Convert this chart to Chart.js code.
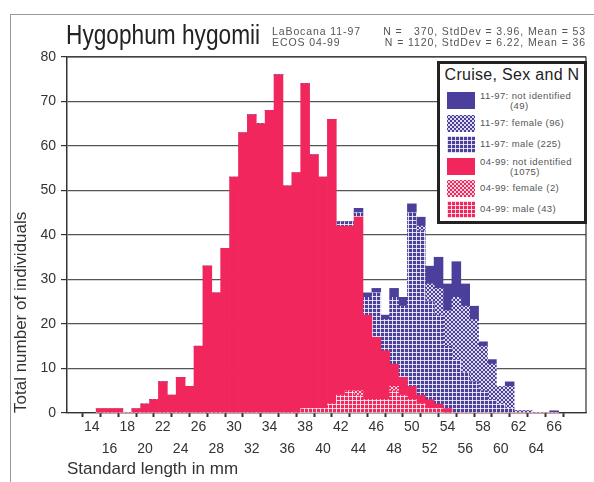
<!DOCTYPE html>
<html><head><meta charset="utf-8">
<script src="https://cdn.jsdelivr.net/npm/chart.js@4"></script>
<style>
html,body{margin:0;padding:0;background:#fff;}
#wrap{position:relative;width:594px;height:482px;overflow:hidden;font-family:Arial,"Liberation Sans",sans-serif;}
#frame{position:absolute;left:10px;top:14px;width:600px;height:500px;border-left:1px solid #999;border-top:1px solid #999;}
#c{position:absolute;left:0;top:0;}
#title{position:absolute;left:66px;top:20px;font-size:27px;line-height:30px;color:#222;white-space:nowrap;transform:scaleX(0.84);transform-origin:left top;}
.stat{position:absolute;font-size:10.5px;line-height:11px;color:#555;white-space:nowrap;letter-spacing:0.9px;}
#legend{position:absolute;left:437px;top:61px;width:144px;height:157px;border:3px solid #222;background:#fff;}
#legend .lt{position:absolute;left:0;top:2px;width:144px;text-align:center;font-size:16px;color:#222;white-space:nowrap;letter-spacing:0.3px;}
.sw{position:absolute;left:7px;width:28px;height:17px;}
.tx{position:absolute;left:40px;font-size:9.5px;line-height:10px;color:#555;white-space:nowrap;letter-spacing:0.4px;}
</style></head>
<body><div id="wrap">
<div id="frame"></div>
<canvas id="c" width="594" height="482"></canvas>
<div id="title">Hygophum hygomii</div>
<div class="stat" style="left:272px;top:26px;">LaBocana 11-97</div>
<div class="stat" style="right:8px;top:26px;">N =&nbsp;&nbsp;&nbsp;370, StdDev = 3.96, Mean = 53</div>
<div class="stat" style="left:272px;top:37px;">ECOS 04-99</div>
<div class="stat" style="right:8px;top:37px;">N = 1120, StdDev = 6.22, Mean = 36</div>
<div id="legend"><div class="lt">Cruise, Sex and N</div></div>
</div>
<script>
// ---- data ----
const lengths = [15,16,17,18,19,20,21,22,23,24,25,26,27,28,29,30,31,32,33,34,35,36,37,38,39,40,41,42,43,44,45,46,47,48,49,50,51,52,53,54,55,56,57,58,59,60,61,62,63,64,65,66];
const redMale     = [0,0,0,0,0,0,0,0,0,0, 0,0,0,0,0,0,0,0,0,0, 0,0,0,1,1,1,2,4,5,4, 3,3,3,5,4,3,2,1,1,0, 0,0,0,0,0,0,0,0,0,0,0,0];
const redFemale   = [0,0,0,0,0,0,0,0,0,0, 0,0,0,0,0,0,0,0,0,0, 0,0,0,0,0,0,0,0,0,1, 0,0,0,1,0,0,0,0,0,0, 0,0,0,0,0,0,0,0,0,0,0,0];
const redNotId    = [1,1,1,0,1,2,3,7,4,8, 6,15,33,27,37,53,63,67,65,68, 76,51,54,73,57,52,64,38,37,39, 19,14,11,5,4,3,2,2,1,1, 0,0,0,0,0,0,0,0,0,0,0,0];
const blueMale    = [0,0,0,0,0,0,0,0,0,0, 0,0,0,0,0,0,0,0,0,0, 0,0,0,0,0,0,0,1,1,1, 4,10,7,15,16,39,37,22,20,14, 12,9,7,5,3,2,1,0,0,0,0,0];
const blueFemale  = [0,0,0,0,0,0,0,0,0,0, 0,0,0,0,0,0,0,0,0,0, 0,0,0,0,0,0,0,0,0,0, 0,0,0,0,0,0,1,4,6,8, 14,15,14,10,8,4,5,0.5,0.5,0,0,0];
const blueNotId   = [0,0,0,0,0,0,0,0,0,0, 0,0,0,0,0,0,0,0,0,0, 0,0,0,0,0,0,0,0,0,1, 1,1,1,2,2,2,2,4,7,6, 8,5,3,1,1,0,1,0,0,0,0,0.5];
const xTickLabels = [14,16,18,20,22,24,26,28,30,32,34,36,38,40,42,44,46,48,50,52,54,56,58,60,62,64,66];
const yTickLabels = [0,10,20,30,40,50,60,70,80];
const seriesNames = ['04-99: male (43)','04-99: female (2)','04-99: not identified (1075)','11-97: male (225)','11-97: female (96)','11-97: not identified (49)'];

// ---- styles ----
const RED = '#f0265c', BLUE = '#4a409c';
function tile(base, kind){
  const c = document.createElement('canvas'); c.width = 4; c.height = 4;
  const g = c.getContext('2d'); g.fillStyle = base; g.fillRect(0,0,4,4);
  g.fillStyle = 'rgba(255,255,255,0.8)';
  if (kind === 'grid'){ g.fillRect(0,0,4,1); g.fillRect(0,0,1,4); }
  else if (kind === 'cross'){ for(let i=0;i<4;i++){ g.fillRect(i,i,1,1); g.fillRect(3-i,i,1,1);} }
  return c;
}
const ctx = document.getElementById('c').getContext('2d');
const tiles = [tile(RED,'grid'), tile(RED,'cross'), tile(RED,'solid'), tile(BLUE,'grid'), tile(BLUE,'cross'), tile(BLUE,'solid')];
const fills = tiles.map(t => ctx.createPattern(t,'repeat'));
const seriesData = [redMale, redFemale, redNotId, blueMale, blueFemale, blueNotId];

const datasets = seriesData.map((arr, k) => ({
  label: seriesNames[k],
  data: lengths.map((x,i) => ({x: x, y: arr[i]})),
  backgroundColor: fills[k],
  borderWidth: 0,
  stack: 's',
  barPercentage: 1,
  categoryPercentage: 1
}));

const areaFrame = {
  id: 'areaFrame',
  afterDraw(chart){
    const {ctx, chartArea:a} = chart;
    ctx.save(); ctx.strokeStyle = '#333'; ctx.lineWidth = 1.2;
    ctx.beginPath(); ctx.moveTo(a.left, a.top); ctx.lineTo(a.right, a.top); ctx.lineTo(a.right, a.bottom); ctx.stroke();
    ctx.restore();
  }
};

new Chart(ctx, {
  type: 'bar',
  data: { datasets },
  plugins: [areaFrame],
  options: {
    responsive: false, animation: false,
    layout: { padding: { left: 0, right: 8, top: 57, bottom: 0 } },
    plugins: { legend: { display: false }, tooltip: { enabled: false } },
    scales: {
      x: {
        type: 'linear', min: 12.3, max: 68.5, stacked: true,
        afterBuildTicks: s => { s.ticks = xTickLabels.map(v => ({ value: v })); },
        afterFit: s => { s.height = 69; },
        grid: { drawOnChartArea: false, drawTicks: true, tickLength: 4, tickWidth: 2, tickColor: '#333' },
        border: { display: true, color: '#333', width: 1.2 },
        ticks: { autoSkip: false, maxRotation: 0, padding: -1, color: '#333',
          font: { family: 'Arial', size: 14, lineHeight: 1.57 },
          callback: (v, i) => i % 2 === 0 ? [String(v), ''] : ['', String(v)] },
        title: { display: true, text: 'Standard length in mm', align: 'start', color: '#333',
          font: { family: 'Arial', size: 17 }, padding: { top: 0, bottom: 2 } }
      },
      y: {
        stacked: true, min: 0, max: 80,
        afterBuildTicks: s => { s.ticks = yTickLabels.map(v => ({ value: v })); },
        afterFit: s => { s.width = 67; },
        grid: { color: '#555', lineWidth: 1.2, tickLength: 6, tickColor: '#333' },
        border: { color: '#333', width: 1.5 },
        ticks: { padding: 5, color: '#333', font: { family: 'Arial', size: 14 } },
        title: { display: true, text: 'Total number of individuals', align: 'start', color: '#333',
          font: { family: 'Arial', size: 17 }, padding: { top: 11, bottom: 0 } }
      }
    }
  }
});

// ---- legend (HTML overlay, same order as the reference) ----
const legendOrder = [5,4,3,2,1,0];
const legendText = [
  ['11-97: not identified','(49)'], ['11-97: female (96)'], ['11-97: male (225)'],
  ['04-99: not identified','(1075)'], ['04-99: female (2)'], ['04-99: male (43)']
];
const itemTops = [28, 51, 72, 94, 116, 137];
const lg = document.getElementById('legend');
legendOrder.forEach((k, j) => {
  const sw = document.createElement('div'); sw.className = 'sw';
  sw.style.top = itemTops[j] + 'px';
  sw.style.backgroundImage = 'url(' + tiles[k].toDataURL() + ')';
  lg.appendChild(sw);
  const tx = document.createElement('div'); tx.className = 'tx';
  const lines = legendText[j];
  tx.style.top = (itemTops[j] + (lines.length === 1 ? 3 : -1)) + 'px';
  tx.innerHTML = lines[0] + (lines[1] ? '<br><span style="padding-left:30px">' + lines[1] + '</span>' : '');
  lg.appendChild(tx);
});
</script>
</body></html>
